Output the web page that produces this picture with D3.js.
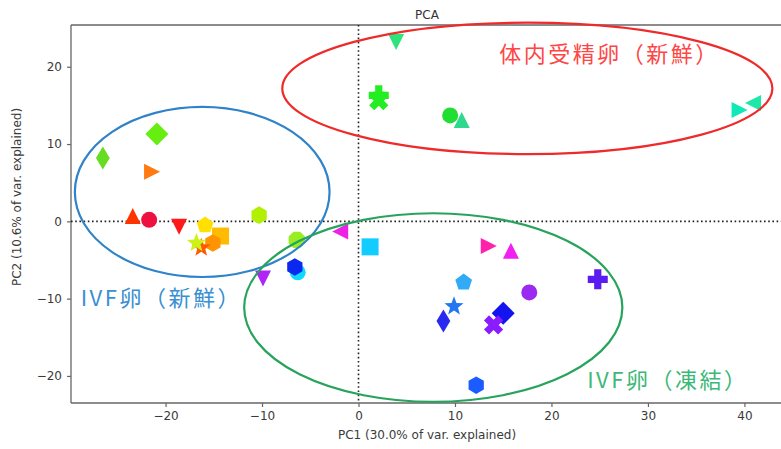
<!DOCTYPE html>
<html>
<head>
<meta charset="utf-8">
<title>PCA</title>
<script src="https://cdn.jsdelivr.net/npm/d3@7"></script>
<style>
  body { margin: 0; background: #fff; }
  svg { display: block; }
  .grp { text-spacing-trim: space-all; letter-spacing: 2.5px; }
</style>
</head>
<body>
<script>
// scores
var pc1 = [3.9, 2.1, 2.1, 9.5, 10.7, 39.5, 40.9,
           -26.5, -20.9, -21.4, -23.4, -21.7, -18.6, -15.9, -14.3, -15.1, -16.3, -16.8, -10.3, -6.4, -9.9, -6.3, -6.6, -1.9,
           1.2, 13.5, 15.8, 10.9, 9.9, 8.8, 15.0, 14.0, 17.7, 24.8, 12.2]
var pc2 = [23.2, 16.3, 15.6, 13.7, 13.1, 14.4, 15.3,
           8.2, 11.3, 6.4, 0.7, 0.2, -0.7, -0.5, -1.9, -2.8, -3.4, -2.8, 0.8, -2.4, -7.4, -6.6, -5.9, -1.3,
           -3.3, -3.2, -3.8, -7.9, -11.0, -12.9, -11.9, -13.4, -9.2, -7.5, -21.2]
var markers = ["v", "P", "X", "o", "^", ">", "<",
               "d", "D", ">", "^", "o", "v", "p", "s", "h", "*", "*", "h", "8", "v", "o", "h", "<",
               "s", ">", "^", "p", "*", "d", "D", "X", "o", "P", "h"]
var colors = ["#2de37a", "#22ee22", "#22ee22", "#22dd33", "#2ed88c", "#11e8b8", "#1ee8a8",
              "#66dd22", "#66ee11", "#ff7a11", "#ff3300", "#ee1140", "#ff1a1a", "#ffe000", "#ffbb00", "#ff9400", "#ff5a00", "#ccf21a", "#b0f000", "#99ee22", "#b025f5", "#11d8ff", "#0a28ee", "#ee22e4",
              "#11ccff", "#ff22aa", "#f020f0", "#33aaf5", "#2277f0", "#2a2aee", "#1414ee", "#8a1cff", "#9a2af2", "#5a1cf0", "#1a5cff"]

var xTicks = [-20, -10, 0, 10, 20, 30, 40]
var yTicks = [-20, -10, 0, 10, 20]

// groups drawn on top of the plot (data units)
var groupNames = ["体内受精卵（新鮮）", "IVF卵（新鮮）", "IVF卵（凍結）"]
var groupColors = ["#ee2a2a", "#2f83c8", "#27a35c"]
var groupTextColors = ["#ff4646", "#3a8fd2", "#3cb878"]
var groupCx = [17.5, -16.2, 7.75]
var groupCy = [17.2, 3.8, -11.15]
var groupRx = [25.4, 13.2, 19.6]
var groupRy = [8.5, 11.0, 12.2]
var labelX = [14.6, -28.8, 23.7]
var labelY = [20.6, -10.9, -21.6]

var width = 781, height = 449
var pLeft = 71, pRight = 783, pTop = 25, pBottom = 403

var svg = d3.select("body").append("svg")
    .attr("width", width).attr("height", height)

var x = d3.scaleLinear().domain([-29.8, 44.0]).range([pLeft, pRight])
var y = d3.scaleLinear().domain([-23.5, 25.4]).range([pBottom, pTop])

// marker shapes, roughly like matplotlib's
function poly(pts) {
  return {draw: function(ctx, r) {
    pts.forEach(function(p, i) {
      if (i == 0) ctx.moveTo(p[0] * r, p[1] * r); else ctx.lineTo(p[0] * r, p[1] * r)
    })
    ctx.closePath()
  }}
}
function ngon(n, rot) {
  var pts = []
  for (var i = 0; i < n; i++) {
    var a = rot + i * 2 * Math.PI / n
    pts.push([Math.sin(a), -Math.cos(a)])
  }
  return poly(pts)
}
function star() {
  var pts = []
  for (var i = 0; i < 10; i++) {
    var a = i * Math.PI / 5, rr = i % 2 ? 0.42 : 1
    pts.push([rr * Math.sin(a), -rr * Math.cos(a)])
  }
  return poly(pts)
}
var w = 0.36
var plusPts = [[-w, -1], [w, -1], [w, -w], [1, -w], [1, w], [w, w], [w, 1], [-w, 1], [-w, w], [-1, w], [-1, -w], [-w, -w]]
var xPts = plusPts.map(function(p) {
  var c = Math.SQRT1_2
  return [(p[0] - p[1]) * c, (p[0] + p[1]) * c]
})

var shapes = {
  "o": {draw: function(ctx, r) { ctx.moveTo(r, 0); ctx.arc(0, 0, r, 0, 2 * Math.PI) }},
  "^": poly([[0, -1], [1, 1], [-1, 1]]),
  "v": poly([[0, 1], [1, -1], [-1, -1]]),
  "<": poly([[-1, 0], [1, -1], [1, 1]]),
  ">": poly([[1, 0], [-1, -1], [-1, 1]]),
  "s": poly([[-1, -1], [1, -1], [1, 1], [-1, 1]]),
  "D": poly([[0, -1], [1, 0], [0, 1], [-1, 0]]),
  "d": poly([[0, -1], [0.6, 0], [0, 1], [-0.6, 0]]),
  "p": ngon(5, 0),
  "h": ngon(6, 0),
  "8": ngon(8, Math.PI / 8),
  "*": star(),
  "P": poly(plusPts),
  "X": poly(xPts)
}
var shapeSize = {"o": 8, "^": 8, "v": 8, "<": 8, ">": 8, "s": 8.5, "D": 11.5, "d": 11.5,
                 "p": 8.8, "h": 8.8, "8": 8.8, "*": 10, "P": 10, "X": 10}

// frame
var axisColor = "#666"
svg.append("line").attr("x1", pLeft).attr("x2", pRight).attr("y1", pTop).attr("y2", pTop)
    .attr("stroke", axisColor).attr("stroke-width", 1.3)
svg.append("line").attr("x1", pLeft).attr("x2", pRight).attr("y1", pBottom).attr("y2", pBottom)
    .attr("stroke", axisColor).attr("stroke-width", 1.3)
svg.append("line").attr("x1", pLeft).attr("x2", pLeft).attr("y1", pTop).attr("y2", pBottom)
    .attr("stroke", axisColor).attr("stroke-width", 1.3)

var xAxis = svg.append("g").attr("transform", "translate(0," + pBottom + ")")
    .call(d3.axisBottom(x).tickValues(xTicks).tickSize(4).tickPadding(4).tickFormat(d3.format("d")))
var yAxis = svg.append("g").attr("transform", "translate(" + pLeft + ",0)")
    .call(d3.axisLeft(y).tickValues(yTicks).tickSize(4).tickPadding(5).tickFormat(d3.format("d")))
;[xAxis, yAxis].forEach(function(g) {
  g.select(".domain").remove()
  g.selectAll("line").attr("stroke", axisColor).attr("stroke-width", 1.2)
  g.selectAll("text").attr("fill", "#3a3a3a").attr("font-size", 12)
      .attr("font-family", "DejaVu Sans")
})
// minus sign like matplotlib
svg.selectAll(".tick text").text(function(d) { return d < 0 ? "\u2212" + Math.abs(d) : d })

// zero lines
svg.append("line").attr("x1", x(0)).attr("x2", x(0)).attr("y1", pTop).attr("y2", pBottom)
    .attr("stroke", "#222").attr("stroke-width", 1.6).attr("stroke-dasharray", "1.6,2.6")
svg.append("line").attr("x1", pLeft).attr("x2", pRight).attr("y1", y(0)).attr("y2", y(0))
    .attr("stroke", "#222").attr("stroke-width", 1.6).attr("stroke-dasharray", "1.6,2.6")

// points
var sym = d3.symbol()
svg.append("g").selectAll("path")
    .data(pc1)
    .enter()
    .append("path")
    .attr("transform", function(d, i) { return "translate(" + x(d) + "," + y(pc2[i]) + ")" })
    .attr("d", function(d, i) {
      return sym.type(shapes[markers[i]]).size(shapeSize[markers[i]])()
    })
    .attr("fill", function(d, i) { return colors[i] })

// titles
svg.append("text").attr("x", (pLeft + pRight) / 2).attr("y", 19)
    .attr("text-anchor", "middle").attr("font-family", "DejaVu Sans").attr("font-size", 12)
    .attr("fill", "#333").text("PCA")
svg.append("text").attr("x", (pLeft + pRight) / 2).attr("y", 439)
    .attr("text-anchor", "middle").attr("font-family", "DejaVu Sans").attr("font-size", 12)
    .attr("fill", "#3a3a3a").text("PC1 (30.0% of var. explained)")
svg.append("text").attr("transform", "translate(21,197) rotate(-90)")
    .attr("text-anchor", "middle").attr("font-family", "DejaVu Sans").attr("font-size", 12)
    .attr("fill", "#3a3a3a").text("PC2 (10.6% of var. explained)")

// group ellipses and their labels
svg.append("g").selectAll("ellipse")
    .data(groupNames)
    .enter()
    .append("ellipse")
    .attr("cx", function(d, i) { return x(groupCx[i]) })
    .attr("cy", function(d, i) { return y(groupCy[i]) })
    .attr("rx", function(d, i) { return x(groupRx[i]) - x(0) })
    .attr("ry", function(d, i) { return y(0) - y(groupRy[i]) })
    .attr("fill", "none")
    .attr("stroke", function(d, i) { return groupColors[i] })
    .attr("stroke-width", 2.2)

svg.append("g").selectAll("text")
    .data(groupNames)
    .enter()
    .append("text")
    .attr("class", "grp")
    .attr("x", function(d, i) { return x(labelX[i]) })
    .attr("y", function(d, i) { return y(labelY[i]) })
    .attr("font-family", "Noto Sans CJK JP")
    .attr("font-size", 22)
    .attr("fill", function(d, i) { return groupTextColors[i] })
    .text(function(d) { return d })
</script>
</body>
</html>
